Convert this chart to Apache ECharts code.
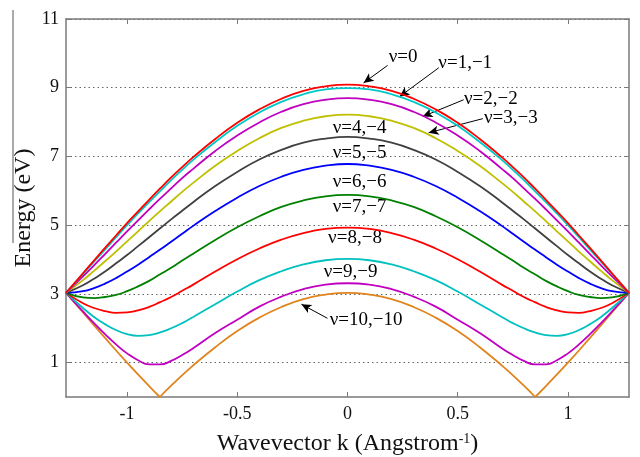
<!DOCTYPE html>
<html>
<head>
<meta charset="utf-8">
<script src="https://cdn.jsdelivr.net/npm/echarts@6/dist/echarts.min.js"></script>
<style>
html, body { margin: 0; padding: 0; background: #fff; }
#chart { width: 640px; height: 457px; }
</style>
</head>
<body>
<div id="chart"></div>
<script>
// wavevector samples (1/Angstrom), denser where the lower bands bottom out
const kGrid = [-1.277, -1.2, -1.15, -1.1, -1.05, -1.0, -0.95, -0.9, -0.85, -0.8, -0.75, -0.7, -0.6, -0.5, -0.4, -0.3, -0.2, -0.1, 0,
  0.1, 0.2, 0.3, 0.4, 0.5, 0.6, 0.7, 0.75, 0.8, 0.85, 0.9, 0.95, 1.0, 1.05, 1.1, 1.15, 1.2, 1.277]
// the v=10 band touches zero, so it gets the two crossing points too
const kVee = [-1.277, -1.2, -1.1, -1.0, -0.9, -0.851, -0.8, -0.7, -0.6, -0.5, -0.4, -0.3, -0.2, -0.1, 0,
  0.1, 0.2, 0.3, 0.4, 0.5, 0.6, 0.7, 0.8, 0.851, 0.9, 1.0, 1.1, 1.2, 1.277]

// energy (eV) of each band
const nu0 = [3.03, 3.60, 3.97, 4.34, 4.70, 5.06, 5.40, 5.74, 6.07, 6.39, 6.69, 6.98, 7.51, 7.98, 8.37, 8.68, 8.91, 9.04, 9.09, 9.04, 8.91, 8.68, 8.37, 7.98, 7.51, 6.98, 6.69, 6.39, 6.07, 5.74, 5.40, 5.06, 4.70, 4.34, 3.97, 3.60, 3.03]
const nu1 = [3.03, 3.58, 3.94, 4.29, 4.65, 5.00, 5.34, 5.67, 5.99, 6.31, 6.61, 6.90, 7.42, 7.89, 8.28, 8.59, 8.81, 8.95, 8.99, 8.95, 8.81, 8.59, 8.28, 7.89, 7.42, 6.90, 6.61, 6.31, 5.99, 5.67, 5.34, 5.00, 4.65, 4.29, 3.94, 3.58, 3.03]
const nu2 = [3.03, 3.51, 3.83, 4.16, 4.49, 4.82, 5.14, 5.46, 5.77, 6.07, 6.37, 6.64, 7.16, 7.61, 7.99, 8.30, 8.52, 8.65, 8.70, 8.65, 8.52, 8.30, 7.99, 7.61, 7.16, 6.64, 6.37, 6.07, 5.77, 5.46, 5.14, 4.82, 4.49, 4.16, 3.83, 3.51, 3.03]
const nu3 = [3.03, 3.40, 3.67, 3.95, 4.23, 4.53, 4.82, 5.12, 5.41, 5.69, 5.97, 6.23, 6.73, 7.16, 7.53, 7.83, 8.04, 8.17, 8.22, 8.17, 8.04, 7.83, 7.53, 7.16, 6.73, 6.23, 5.97, 5.69, 5.41, 5.12, 4.82, 4.53, 4.23, 3.95, 3.67, 3.40, 3.03]
const nu4 = [3.03, 3.25, 3.44, 3.65, 3.89, 4.13, 4.39, 4.65, 4.91, 5.17, 5.42, 5.67, 6.14, 6.55, 6.91, 7.19, 7.40, 7.52, 7.57, 7.52, 7.40, 7.19, 6.91, 6.55, 6.14, 5.67, 5.42, 5.17, 4.91, 4.65, 4.39, 4.13, 3.89, 3.65, 3.44, 3.25, 3.03]
const nu5 = [3.03, 3.08, 3.17, 3.30, 3.46, 3.65, 3.85, 4.07, 4.29, 4.52, 4.75, 4.98, 5.41, 5.80, 6.14, 6.41, 6.61, 6.73, 6.78, 6.73, 6.61, 6.41, 6.14, 5.80, 5.41, 4.98, 4.75, 4.52, 4.29, 4.07, 3.85, 3.65, 3.46, 3.30, 3.17, 3.08, 3.03]
const nu6 = [3.03, 2.90, 2.88, 2.91, 2.97, 3.08, 3.22, 3.38, 3.57, 3.76, 3.97, 4.17, 4.57, 4.94, 5.26, 5.53, 5.72, 5.84, 5.88, 5.84, 5.72, 5.53, 5.26, 4.94, 4.57, 4.17, 3.97, 3.76, 3.57, 3.38, 3.22, 3.08, 2.97, 2.91, 2.88, 2.90, 3.03]
const nu7 = [3.03, 2.73, 2.59, 2.50, 2.45, 2.46, 2.52, 2.62, 2.76, 2.91, 3.09, 3.27, 3.65, 4.01, 4.32, 4.58, 4.77, 4.89, 4.93, 4.89, 4.77, 4.58, 4.32, 4.01, 3.65, 3.27, 3.09, 2.91, 2.76, 2.62, 2.52, 2.46, 2.45, 2.50, 2.59, 2.73, 3.03]
const nu8 = [3.03, 2.59, 2.33, 2.12, 1.95, 1.83, 1.78, 1.80, 1.88, 2.00, 2.15, 2.33, 2.70, 3.07, 3.40, 3.66, 3.86, 3.98, 4.02, 3.98, 3.86, 3.66, 3.40, 3.07, 2.70, 2.33, 2.15, 2.00, 1.88, 1.80, 1.78, 1.83, 1.95, 2.12, 2.33, 2.59, 3.03]
const nu9 = [3.03, 2.49, 2.15, 1.83, 1.53, 1.27, 1.07, 0.95, 0.95, 1.05, 1.22, 1.42, 1.86, 2.25, 2.63, 2.92, 3.14, 3.27, 3.31, 3.27, 3.14, 2.92, 2.63, 2.25, 1.86, 1.42, 1.22, 1.05, 0.95, 0.95, 1.07, 1.27, 1.53, 1.83, 2.15, 2.49, 3.03]
const nu10 = [3.03, 2.46, 1.72, 1.00, 0.32, 0, 0.33, 0.92, 1.45, 1.92, 2.31, 2.62, 2.85, 2.98, 3.03, 2.98, 2.85, 2.62, 2.31, 1.92, 1.45, 0.92, 0.33, 0, 0.32, 1.00, 1.72, 2.46, 3.03]

const bands = [nu0, nu1, nu2, nu3, nu4, nu5, nu6, nu7, nu8, nu9]
const bandColors = ['#ff0000', '#00c8c8', '#c000c0', '#bfbf00', '#404040', '#0000ff',
  '#008000', '#ff0000', '#00c0c0', '#c000c0']
const veeColor = '#e0841e'

const xTicks = [-1, -0.5, 0, 0.5, 1]
const yTicks = [1, 3, 5, 7, 9, 11]

// curve labels and where they sit (k, E)
const labelTexts = ['ν=0', 'ν=1,−1', 'ν=2,−2', 'ν=3,−3', 'ν=4,−4', 'ν=5,−5',
  'ν=6,−6', 'ν=7,−7', 'ν=8,−8', 'ν=9,−9', 'ν=10,−10']
const labelSpots = [[0.252, 9.90], [0.534, 9.73], [0.650, 8.68], [0.741, 8.13], [0.055, 7.84],
  [0.055, 7.11], [0.055, 6.27], [0.055, 5.54], [0.034, 4.64], [0.014, 3.65], [0.084, 2.24]]

// arrows from label to curve
const arrowTails = [[0.182, 9.65], [0.414, 9.58], [0.527, 8.65], [0.614, 8.10], [-0.091, 2.29]]
const arrowHeads = [[0.073, 9.14], [0.236, 8.74], [0.341, 8.16], [0.368, 7.69], [-0.209, 2.70]]

const serif = 'Liberation Serif'
const frame = { onZero: false, lineStyle: { color: '#7a7a7a', width: 1.5 } }
const tickStyle = { color: '#7a7a7a' }

const chart = echarts.init(document.getElementById('chart'))

const series = []

// v=10 is cut at its zero points so the V stays sharp while the rest is smooth
const cuts = [0]
nu10.forEach((v, i) => { if (v === 0) cuts.push(i) })
cuts.push(nu10.length - 1)
for (let c = 0; c < cuts.length - 1; c++) {
  const idx = []
  for (let i = cuts[c]; i <= cuts[c + 1]; i++) idx.push(i)
  series.push({
    name: labelTexts[10],
    type: 'line',
    data: idx.map((i) => [kVee[i], nu10[i]]),
    smooth: 0.5,
    symbol: 'none',
    lineStyle: { color: veeColor, width: 1.8 },
    z: 5
  })
}

for (let i = bands.length - 1; i >= 0; i--) {
  series.push({
    name: labelTexts[i],
    type: 'line',
    data: kGrid.map((k, j) => [k, bands[i][j]]),
    smooth: 0.5,
    symbol: 'none',
    lineStyle: { color: bandColors[i], width: 1.8 },
    z: 20 - i
  })
}

series.push({
  type: 'line',
  data: [],
  silent: true,
  markLine: {
    silent: true,
    symbol: ['none', 'arrow'],
    symbolSize: [7, 10],
    label: { show: false },
    lineStyle: { color: '#000', width: 1, type: 'solid' },
    data: arrowTails.map((t, i) => [{ coord: t }, { coord: arrowHeads[i] }])
  },
  markPoint: {
    silent: true,
    symbol: 'circle',
    symbolSize: 0,
    label: {
      show: true,
      position: 'inside',
      color: '#000',
      fontFamily: serif,
      fontSize: 19
    },
    data: labelSpots.map((p, i) => ({ coord: p, value: labelTexts[i], label: { formatter: labelTexts[i] } }))
  },
  z: 30
})

chart.setOption({
  animation: false,
  backgroundColor: '#fff',
  grid: { left: 66, right: 11, top: 19, bottom: 60, outerBoundsMode: 'none', containLabel: false },
  xAxis: [
    {
      type: 'value',
      min: -1.277,
      max: 1.277,
      axisLine: frame,
      axisTick: { inside: true, length: 5, customValues: xTicks, lineStyle: tickStyle },
      axisLabel: { customValues: xTicks, margin: 8, color: '#111', fontFamily: serif, fontSize: 18 },
      splitLine: { show: false },
      name: '{a|Wavevector k (Angstrom}{s|-1}{a|)}',
      nameLocation: 'middle',
      nameGap: 35,
      nameMoveOverlap: false,
      nameTextStyle: {
        color: '#111',
        fontFamily: serif,
        fontSize: 24,
        rich: {
          a: { fontFamily: serif, fontSize: 24, color: '#111' },
          s: { fontFamily: serif, fontSize: 14, color: '#111', verticalAlign: 'top', padding: [0, 0, 10, 0] }
        }
      }
    },
    {
      type: 'value',
      position: 'top',
      min: -1.277,
      max: 1.277,
      axisLine: frame,
      axisTick: { inside: true, length: 5, customValues: xTicks, lineStyle: tickStyle },
      axisLabel: { show: false },
      splitLine: { show: false }
    }
  ],
  yAxis: [
    {
      type: 'value',
      min: 0,
      max: 11,
      interval: 1,
      axisLine: frame,
      axisTick: { inside: true, length: 5, customValues: yTicks, lineStyle: tickStyle },
      axisLabel: { customValues: yTicks, margin: 7, color: '#111', fontFamily: serif, fontSize: 18 },
      splitLine: { show: true, lineStyle: { color: '#666', type: [1.5, 3], width: 1 } },
      name: 'Energy (eV)',
      nameLocation: 'middle',
      nameGap: 30,
      nameMoveOverlap: false,
      nameTextStyle: { color: '#111', fontFamily: serif, fontSize: 24 }
    },
    {
      type: 'value',
      position: 'right',
      min: 0,
      max: 11,
      interval: 1,
      axisLine: frame,
      axisTick: { inside: true, length: 5, customValues: yTicks, lineStyle: tickStyle },
      axisLabel: { show: false },
      splitLine: { show: false }
    }
  ],
  graphic: [
    { type: 'line', shape: { x1: 13, y1: 10, x2: 13, y2: 243 }, style: { stroke: '#555', lineWidth: 1 }, silent: true }
  ],
  series: series
})
</script>
</body>
</html>
